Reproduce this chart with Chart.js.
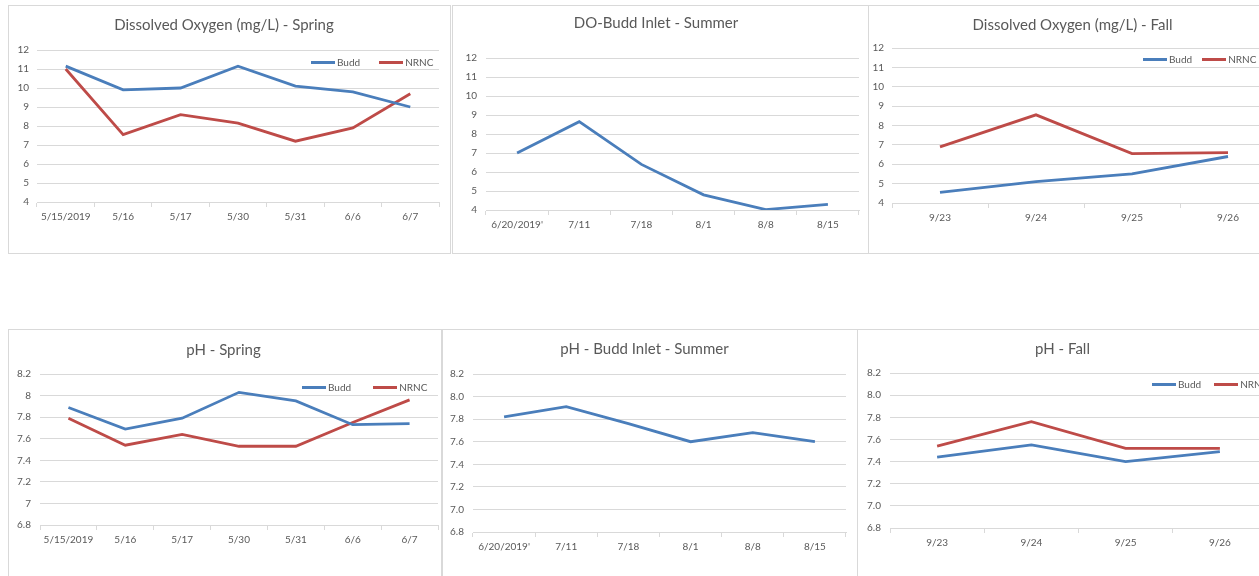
<!DOCTYPE html>
<html>
<head>
<meta charset="utf-8">
<script src="https://cdn.jsdelivr.net/npm/chart.js@4.4.1/dist/chart.umd.min.js"></script>
<style>
    html, body { margin: 0; padding: 0; background: #fff; overflow: hidden; width: 1259px; height: 576px; }
    .panel { position: absolute; border: 1px solid #d9d9d9; box-sizing: border-box; background: #fff; }
    .panel canvas { position: absolute; left: 0; top: 0; }
    .legend { position: absolute; display: flex; align-items: center; height: 14px;
              font-family: Lato, "Open Sans", sans-serif; font-size: 10px; color: #595959; white-space: nowrap; }
    .legend .item { display: flex; align-items: center; flex-shrink: 0; }
    .legend .bar { display: inline-block; width: 24px; height: 3px; margin-right: 2px; }
</style>
</head>
<body>
<div class="panel" id="p1"><canvas id="c1"></canvas></div>
<div class="panel" id="p2"><canvas id="c2"></canvas></div>
<div class="panel" id="p3"><canvas id="c3"></canvas></div>
<div class="panel" id="p4"><canvas id="c4"></canvas></div>
<div class="panel" id="p5"><canvas id="c5"></canvas></div>
<div class="panel" id="p6"><canvas id="c6"></canvas></div>
<script>
// Tanggal sampling
const springDates = ['5/15/2019', '5/16', '5/17', '5/30', '5/31', '6/6', '6/7'];
const summerDates = ["6/20/2019'", '7/11', '7/18', '8/1', '8/8', '8/15'];
const fallDates = ['9/23', '9/24', '9/25', '9/26'];

// Dissolved oxygen (mg/L)
const doSpringBudd = [11.15, 9.9, 10.0, 11.15, 10.1, 9.8, 9.0];
const doSpringNrnc = [11.0, 7.55, 8.6, 8.15, 7.2, 7.9, 9.7];
const doSummerBudd = [7.0, 8.65, 6.4, 4.8, 4.02, 4.3];
const doFallBudd = [4.55, 5.1, 5.5, 6.4];
const doFallNrnc = [6.9, 8.55, 6.55, 6.6];

// pH
const phSpringBudd = [7.89, 7.69, 7.79, 8.03, 7.95, 7.73, 7.74];
const phSpringNrnc = [7.79, 7.54, 7.64, 7.53, 7.53, 7.75, 7.96];
const phSummerBudd = [7.82, 7.91, 7.76, 7.60, 7.68, 7.60];
const phFallBudd = [7.44, 7.55, 7.40, 7.49];
const phFallNrnc = [7.54, 7.76, 7.52, 7.52];

// Rentang sumbu Y [min, max, step]
const doAxis = [4, 12, 1];
const phAxis = [6.8, 8.2, 0.2];

const BLUE = '#4a7ebb';
const RED = '#be4b48';
const GRID = '#d9d9d9';
const TEXT = '#595959';
const FONT = 'Lato, "Open Sans", sans-serif';

function series(label, data, color) {
    return {
        label: label,
        data: data,
        borderColor: color,
        backgroundColor: color,
        borderWidth: 2.8,
        pointRadius: 0,
        tension: 0
    };
}

// Legenda HTML di dalam area plot, gaya Excel
function buildLegend(panel, datasets, pos) {
    const legend = document.createElement('div');
    legend.className = 'legend';
    legend.style.left = pos[0] + 'px';
    legend.style.top = (pos[1] - 7) + 'px';
    datasets.forEach((ds, i) => {
        const item = document.createElement('span');
        item.className = 'item';
        if (i < datasets.length - 1) item.style.marginRight = pos[2] + 'px';
        const bar = document.createElement('span');
        bar.className = 'bar';
        bar.style.background = ds.borderColor;
        const txt = document.createElement('span');
        txt.textContent = ds.label;
        item.appendChild(bar);
        item.appendChild(txt);
        legend.appendChild(item);
    });
    panel.appendChild(legend);
}

function makeChart(cfg) {
    const panel = document.getElementById(cfg.panel);
    panel.style.left = cfg.box[0] + 'px';
    panel.style.top = cfg.box[1] + 'px';
    panel.style.width = cfg.box[2] + 'px';
    panel.style.height = cfg.box[3] + 'px';

    const canvas = document.getElementById(cfg.canvas);
    canvas.width = cfg.box[2];
    canvas.height = cfg.box[3];
    canvas.style.width = cfg.box[2] + 'px';
    canvas.style.height = cfg.box[3] + 'px';

    const axis = cfg.axis;
    new Chart(canvas.getContext('2d'), {
        type: 'line',
        data: { labels: cfg.labels, datasets: cfg.datasets },
        options: {
            responsive: false,
            animation: false,
            layout: { padding: { left: 0, top: 0, right: cfg.padRight, bottom: cfg.padBottom } },
            plugins: {
                title: {
                    display: true,
                    text: cfg.title,
                    color: TEXT,
                    font: { family: FONT, size: 15, weight: 'normal' },
                    padding: { top: cfg.titleTop, bottom: cfg.titleBottom }
                },
                legend: { display: false },
                tooltip: { enabled: false }
            },
            scales: {
                x: {
                    offset: true,
                    grid: { offset: true, drawOnChartArea: false, drawTicks: true, tickLength: 5, color: GRID },
                    border: { display: true, color: GRID },
                    ticks: { color: TEXT, font: { family: FONT, size: 10 }, maxRotation: 0, autoSkip: false, padding: 4 },
                    afterFit: function(scale) { scale.height = 30; }
                },
                y: {
                    min: axis[0],
                    max: axis[1],
                    grid: { color: GRID, drawTicks: false },
                    border: { display: false },
                    ticks: {
                        stepSize: axis[2],
                        color: TEXT,
                        font: { family: FONT, size: 10 },
                        padding: cfg.tickPad,
                        callback: function(v) {
                            if (cfg.fixed) return Number(v).toFixed(1);
                            return String(Number(Number(v).toFixed(1)));
                        }
                    },
                    afterFit: function(scale) { scale.width = cfg.yWidth; }
                }
            }
        }
    });

    if (cfg.legend) buildLegend(panel, cfg.datasets, cfg.legend);
}

makeChart({
    panel: 'p1', canvas: 'c1', box: [8, 5, 443, 249],
    title: 'Dissolved Oxygen (mg/L) - Spring',
    labels: springDates,
    datasets: [series('Budd', doSpringBudd, BLUE), series('NRNC', doSpringNrnc, RED)],
    axis: doAxis, fixed: false, legend: [302, 56, 19],
    yWidth: 28, tickPad: 8, padRight: 13, padBottom: 23, titleTop: 10, titleBottom: 16
});

makeChart({
    panel: 'p2', canvas: 'c2', box: [452, 5, 417, 249],
    title: 'DO-Budd Inlet - Summer',
    labels: summerDates,
    datasets: [series('Budd', doSummerBudd, BLUE)],
    axis: doAxis, fixed: false,
    yWidth: 33, tickPad: 9, padRight: 11, padBottom: 15, titleTop: 8, titleBottom: 26
});

makeChart({
    panel: 'p3', canvas: 'c3', box: [868, 5, 420, 249],
    title: 'Dissolved Oxygen (mg/L) - Fall',
    labels: fallDates,
    datasets: [series('Budd', doFallBudd, BLUE), series('NRNC', doFallNrnc, RED)],
    axis: doAxis, fixed: false, legend: [274, 53, 10],
    yWidth: 23, tickPad: 8, padRight: 13, padBottom: 22, titleTop: 10, titleBottom: 14
});

makeChart({
    panel: 'p4', canvas: 'c4', box: [8, 329, 434, 260],
    title: 'pH - Spring',
    labels: springDates,
    datasets: [series('Budd', phSpringBudd, BLUE), series('NRNC', phSpringNrnc, RED)],
    axis: phAxis, fixed: false, legend: [293, 57, 22],
    yWidth: 31, tickPad: 9, padRight: 5, padBottom: 35, titleTop: 11, titleBottom: 15
});

makeChart({
    panel: 'p5', canvas: 'c5', box: [442, 329, 416, 260],
    title: 'pH - Budd Inlet - Summer',
    labels: summerDates,
    datasets: [series('Budd', phSummerBudd, BLUE)],
    axis: phAxis, fixed: true,
    yWidth: 30, tickPad: 9, padRight: 13, padBottom: 28, titleTop: 10, titleBottom: 16
});

makeChart({
    panel: 'p6', canvas: 'c6', box: [857, 329, 420, 260],
    title: 'pH - Fall',
    labels: fallDates,
    datasets: [series('Budd', phFallBudd, BLUE), series('NRNC', phFallNrnc, RED)],
    axis: phAxis, fixed: true, legend: [294, 54, 13],
    yWidth: 32, tickPad: 9, padRight: 11, padBottom: 32, titleTop: 10, titleBottom: 15
});
</script>
</body>
</html>
